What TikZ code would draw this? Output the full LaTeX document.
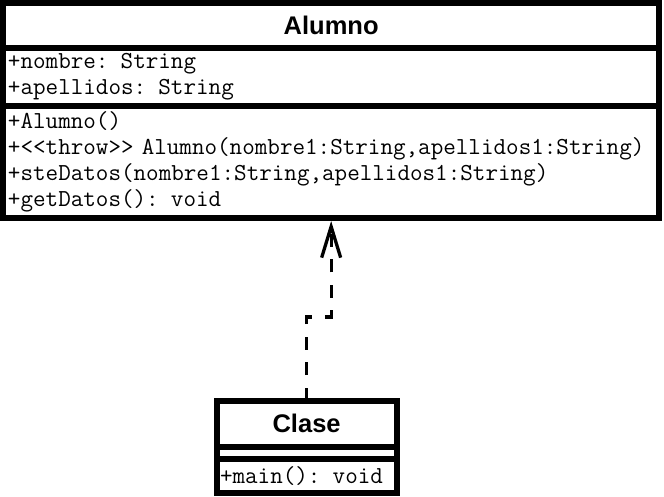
\documentclass[tikz,border=0pt]{standalone}
\usepackage{fontspec}
\setsansfont{Liberation Sans}
\usetikzlibrary{arrows.meta, positioning}

\begin{document}
\begin{tikzpicture}[>={Straight Barb[length=31pt,width=19pt]},
      every node/.style={draw,line width=6pt,outer sep=0pt,inner ysep=0pt},
      classname/.style={font=\sffamily\bfseries\fontsize{25.5}{30}\selectfont},
      classpart/.style={font=\ttfamily\fontsize{24.4}{26}\selectfont,align=left},
      dep/.style={->,line width=3.3pt,dash pattern=on 13pt off 12.5pt}]
  \useasboundingbox (0,0) rectangle (664pt,-497pt);
  % Alumno
  \node[classname,minimum width=656.3pt,minimum height=45pt] (alumno) at (331.15pt,-25.5pt) {Alumno};
  \node[classpart,minimum height=58pt,text width=646.3pt,inner xsep=5pt] (alumno_attr) [below=0pt of alumno]
    {+nombre: String\\+apellidos: String};
  \node[classpart,minimum height=112pt,text width=646.3pt,inner xsep=5pt] (alumno_meth) [below=0pt of alumno_attr]
    {+Alumno()\\+<\kern0pt<throw>\kern0pt> Alumno(nombre1:String,apellidos1:String)\\+steDatos(nombre1:String,apellidos1:String)\\+getDatos(): void};
  % Clase
  \node[classname,minimum width=180.2pt,minimum height=46.3pt] (clase) at (306.6pt,-423.85pt) {Clase};
  \node[minimum width=180.2pt,minimum height=12pt] (clase_attr) [below=0pt of clase] {};
  \node[classpart,minimum height=34pt,text width=173.2pt,inner xsep=3.5pt] (clase_meth) [below=0pt of clase_attr]
    {+main(): void};
  \draw[dep] (clase.north) -- ++(0,83.7pt) -| ([yshift=-3pt]alumno_meth.south);
\end{tikzpicture}
\end{document}
